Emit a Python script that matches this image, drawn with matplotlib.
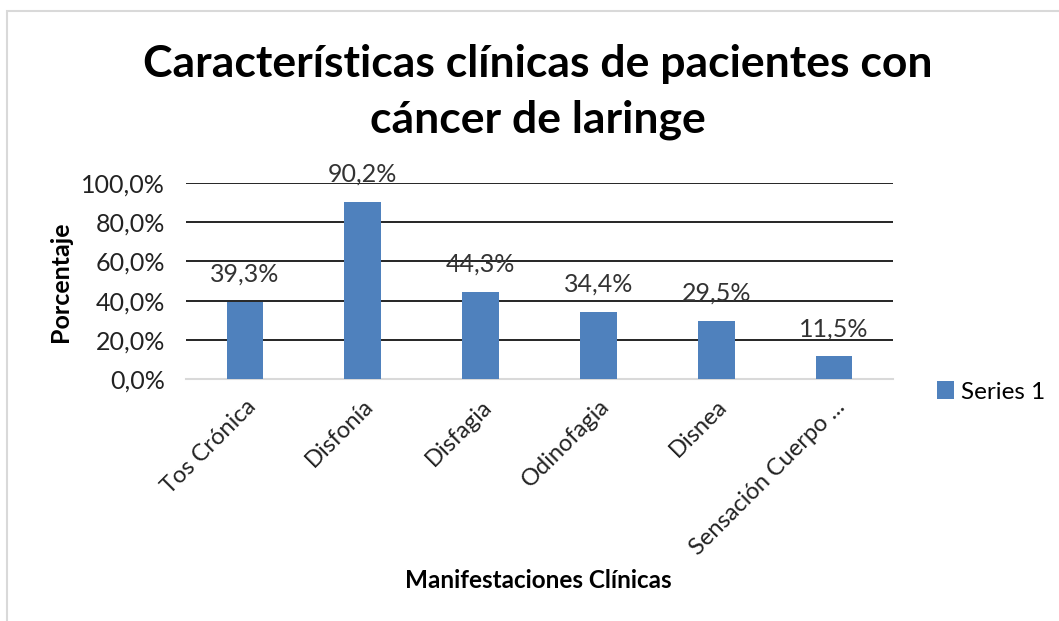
import matplotlib
matplotlib.use("Agg")
import matplotlib.pyplot as plt
from matplotlib.patches import Rectangle

categories = ["Tos Crónica", "Disfonía", "Disfagia", "Odinofagia", "Disnea", "Sensación Cuerpo ..."]
values = [39.3, 90.2, 44.3, 34.4, 29.5, 11.5]
yticks = [0, 20, 40, 60, 80, 100]

plt.rcParams['font.family'] = ['Lato', 'DejaVu Sans']

fig = plt.figure(figsize=(10.59, 6.21), dpi=100)
ax = fig.add_axes([186 / 1059, 1 - 379 / 621, (893 - 186) / 1059, (379 - 183) / 621])

# frame around the chart, like the office chart area
fig.patches.append(Rectangle((7 / 1059, -0.1), 1.2, 1 - 11 / 621 + 0.1,
                             transform=fig.transFigure, fill=False,
                             edgecolor="#d9d9d9", linewidth=1.5))

x = list(range(len(categories)))
bars = ax.bar(x, values, width=0.31, color="#4f81bd", label="Series 1", zorder=3)

for xi, v in zip(x, values):
    ax.annotate(f"{v:.1f}%".replace(".", ","), (xi, v), xytext=(0, 20),
                textcoords="offset points", ha="center", va="center",
                fontsize=18, color="#333333", zorder=4)

ax.set_xlim(-0.5, len(categories) - 0.5)
ax.set_ylim(0, 100)
ax.set_yticks(yticks)
ax.set_yticklabels([f"{t:.1f}%".replace(".", ",") for t in yticks], fontsize=18, color="#222222")
ax.yaxis.grid(True, color="black", linewidth=1.2, zorder=0)
ax.set_xticks(x)
ax.set_xticklabels(categories, rotation=45, ha="right", rotation_mode="anchor",
                   fontsize=17, color="#222222")
ax.tick_params(axis="y", length=0, pad=15)
ax.tick_params(axis="x", length=0, pad=12)

for s in ["top", "right", "left"]:
    ax.spines[s].set_visible(False)
ax.spines["bottom"].set_color("#d9d9d9")
ax.spines["bottom"].set_linewidth(1.5)

fig.text(538 / 1059, 1 - 92 / 621, "Características clínicas de pacientes con\ncáncer de laringe",
         ha="center", va="center", fontsize=32, fontweight="bold", linespacing=1.5)
fig.text(60 / 1059, 1 - 282 / 621, "Porcentaje", rotation=90, ha="center", va="center",
         fontsize=18, fontweight="bold")
fig.text(538 / 1059, 1 - 580 / 621, "Manifestaciones Clínicas", ha="center", va="center",
         fontsize=17.5, fontweight="bold")

leg = fig.legend(handles=[bars], labels=["Series 1"], loc="center left",
                 bbox_to_anchor=(915 / 1059, 1 - 392 / 621), frameon=False,
                 fontsize=17.5, handlelength=0.7, handleheight=0.7, handletextpad=0.3)

fig.savefig("out.png", dpi=100)
